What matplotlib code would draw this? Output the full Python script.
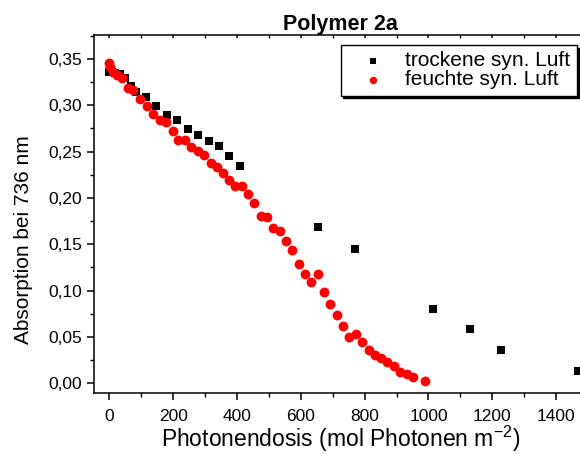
import numpy as np
import matplotlib
matplotlib.use('Agg')
import matplotlib.pyplot as plt
from matplotlib.ticker import MultipleLocator, FuncFormatter

# trockene synthetische Luft (Quadrate)
dry_x = [0, 17, 33, 50, 66, 83, 116, 147, 179, 211, 245, 278, 311, 343, 376, 409,
         654, 769, 1014, 1129, 1227, 1470]
dry_y = [0.336, 0.335, 0.334, 0.329, 0.321, 0.314, 0.309, 0.299, 0.290, 0.284,
         0.274, 0.268, 0.261, 0.256, 0.245, 0.234,
         0.169, 0.145, 0.080, 0.059, 0.036, 0.013]

# feuchte synthetische Luft (Kreise)
wet_x = [0, 3, 12, 24, 38, 58, 75, 97, 118, 138, 158, 177, 198, 215, 238, 257,
         278, 296, 317, 336, 357, 375, 394, 415, 435, 454, 474, 495, 513, 534,
         554, 573, 593, 614, 633, 653, 673, 692, 712, 732, 752, 772, 793, 812,
         831, 851, 870, 891, 911, 932, 951, 990]
wet_y = [0.346, 0.341, 0.336, 0.333, 0.329, 0.319, 0.316, 0.307, 0.2995, 0.2905,
         0.284, 0.282, 0.272, 0.263, 0.262, 0.255, 0.2505, 0.246, 0.2375, 0.2333,
         0.227, 0.2197, 0.2125, 0.2125, 0.204, 0.195, 0.181, 0.179, 0.1676, 0.1648,
         0.153, 0.1443, 0.1285, 0.118, 0.1094, 0.1177, 0.0985, 0.0852, 0.074, 0.062,
         0.0502, 0.0528, 0.0442, 0.0359, 0.0307, 0.0269, 0.0233, 0.0186, 0.0125, 0.010,
         0.0065, 0.0028]

plt.rcParams['font.family'] = ['Liberation Sans', 'DejaVu Sans']

fig = plt.figure(figsize=(5.8, 4.55), dpi=100)
ax = fig.add_axes([93.5/580, 61.7/455, (588-93.5)/580, (393.3-35.3)/455])

ax.scatter(dry_x, dry_y, marker='s', s=38, color='black', linewidths=0,
           label='trockene syn. Luft', zorder=3, clip_on=False)
ax.scatter(wet_x, wet_y, marker='o', s=50, color='red', linewidths=0,
           label='feuchte syn. Luft', zorder=4)

ax.set_xlim(-50, 1500)
ax.set_ylim(-0.0108, 0.3755)

ax.xaxis.set_major_locator(MultipleLocator(200))
ax.xaxis.set_minor_locator(MultipleLocator(100))
ax.yaxis.set_major_locator(MultipleLocator(0.05))
ax.yaxis.set_minor_locator(MultipleLocator(0.025))
ax.yaxis.set_major_formatter(FuncFormatter(lambda v, p: '{:.2f}'.format(v).replace('.', ',')))

ax.spines['right'].set_visible(False)
for s in ['left', 'bottom', 'top']:
    ax.spines[s].set_linewidth(1.1)

ax.tick_params(which='major', direction='out', length=5, width=1.1, labelsize=12.5)
ax.tick_params(which='minor', direction='out', length=3, width=1.0)
ax.tick_params(axis='x', which='major', pad=6)
ax.tick_params(axis='y', which='major', pad=3)
# kleine Striche an der oberen Achse (nach innen)
ax.tick_params(axis='x', which='both', top=True, labeltop=False)
for t in ax.xaxis.get_major_ticks() + ax.xaxis.get_minor_ticks():
    t.tick2line.set_marker(3)
    t.tick2line.set_markersize(2)

ax.set_xlabel('Photonendosis (mol Photonen m$^{\\mathregular{-2}}$)', fontsize=16.5, labelpad=0)
ax.set_ylabel('Absorption bei 736 nm', fontsize=15)
ax.yaxis.set_label_coords(-0.122, 0.43)
ax.set_title('Polymer 2a', fontsize=15.5, fontweight='bold', pad=4)

leg = ax.legend(loc='upper right', bbox_to_anchor=(576.5/580, 1 - 45/455),
                bbox_transform=fig.transFigure, borderaxespad=0, fontsize=15,
                fancybox=False, edgecolor='black', framealpha=1,
                shadow={'color': 'black', 'alpha': 1},
                handletextpad=0.25, borderpad=0.3, labelspacing=0.0,
                markerscale=0.75, handlelength=2.55)
leg.get_frame().set_linewidth(1.0)

fig.savefig('out.png', dpi=100)
